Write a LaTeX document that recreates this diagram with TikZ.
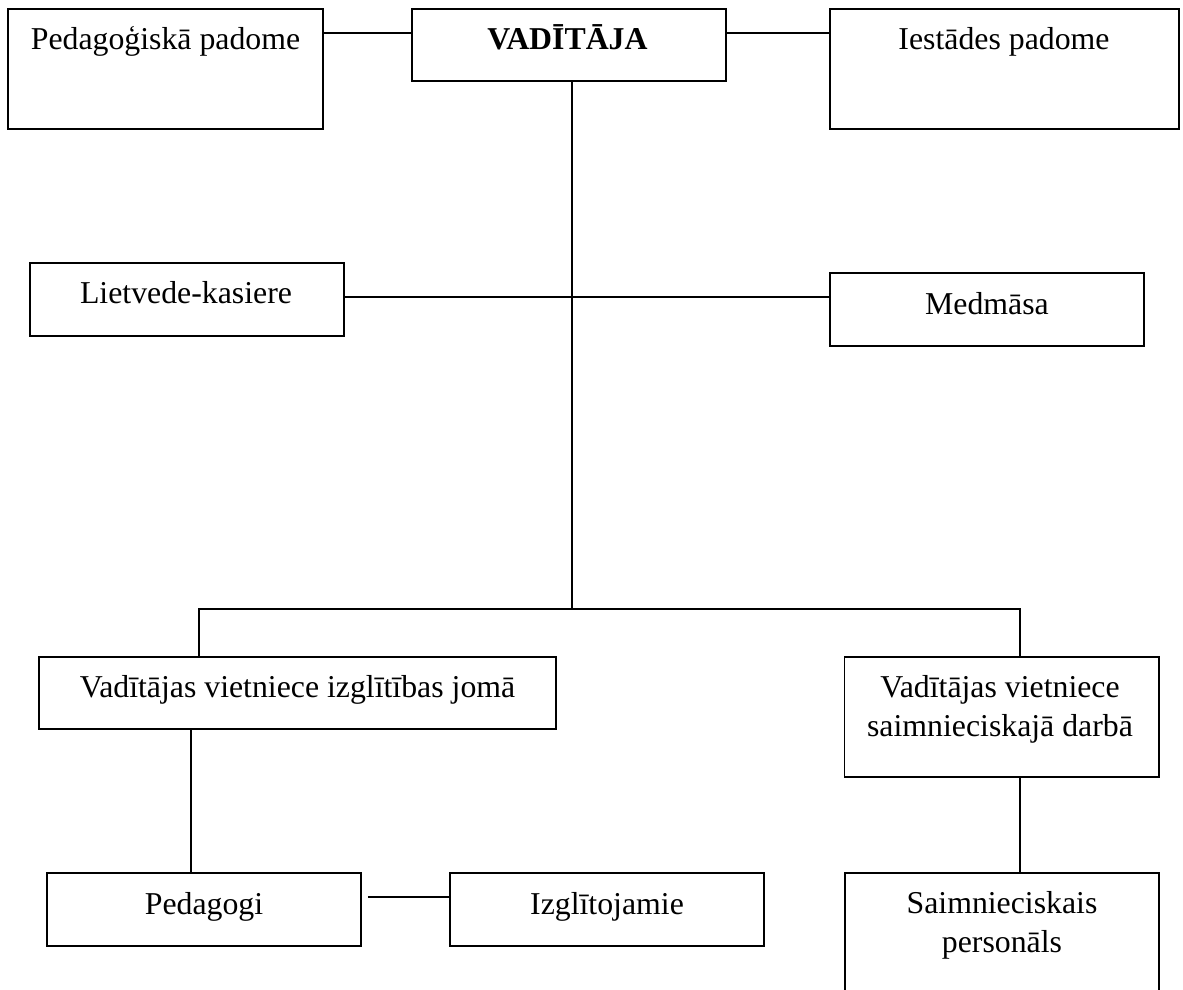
\documentclass[tikz,border=0pt]{standalone}
\usepackage{fontspec}
\setmainfont{Liberation Serif}
\usetikzlibrary{calc}
\newcommand\orgfont{\fontsize{31.8}{39}\selectfont}
\begin{document}
\begin{tikzpicture}[x=1pt,y=-1pt,
  box/.style={draw=black, line width=1.7pt, rectangle, inner sep=0pt, fill=white},
  txt/.style={font=\orgfont, inner sep=0pt, anchor=base, text=black},
  conn/.style={draw=black, line width=1.7pt}]
\useasboundingbox[fill=white] (0,0) rectangle (1183,990);
% boxes
\node[box, minimum width=314.4pt, minimum height=119.7pt] (ped) at (165.5,69.15) {};
\node[box, minimum width=313.7pt, minimum height=71.4pt] (vad) at (568.85,45) {};
\node[box, minimum width=349pt, minimum height=119.7pt] (ies) at (1004.5,69.15) {};
\node[box, minimum width=313.7pt, minimum height=72.7pt] (liet) at (186.85,299.65) {};
\node[box, minimum width=314pt, minimum height=72.4pt] (med) at (987,309.5) {};
\node[box, minimum width=517pt, minimum height=72.3pt] (vi1) at (297.5,692.85) {};
\node[box, minimum width=314.4pt, minimum height=120pt] (vi2) at (1001.8,716.7) {};
\node[box, minimum width=314pt, minimum height=73pt] (pg) at (204,909.5) {};
\node[box, minimum width=314pt, minimum height=73pt] (izg) at (607,909.5) {};
\node[box, minimum width=314pt, minimum height=132pt] (sai) at (1002,939) {};
% texts
\node[txt] (pedt) at (165.5,50) {Pedagoģiskā padome};
\node[txt] (vadt) at (567.5,50) {\bfseries VADĪTĀJA};
\node[txt] (iest) at (1004,50) {Iestādes padome};
\node[txt] (lietT) at (186,303) {Lietvede-kasiere};
\node[txt] (medt) at (987,314) {Medmāsa};
\node[txt] (vi1t) at (297.5,697) {Vadītājas vietniece izglītības jomā};
\node[txt] (vi2a) at (1000,697) {Vadītājas vietniece};
\node[txt] (vi2b) at (1000,736.5) {saimnieciskajā darbā};
\node[txt] (pgt) at (204,914) {Pedagogi};
\node[txt] (izgt) at (607,914) {Izglītojamie};
\node[txt] (saia) at (1002,913) {Saimnieciskais};
\node[txt] (saib) at (1002,952) {personāls};
% helper coordinates
\coordinate (topl) at (0,32.7);
\coordinate (spine) at (572,0);
\coordinate (midl) at (0,297);
\coordinate (bar) at (0,609);
\coordinate (lx) at (199,0);
\coordinate (rx) at (1020,0);
\coordinate (dx) at (191,0);
\coordinate (pl) at (0,897);
\coordinate (barmid) at (spine |- bar);
% connectors
\draw[conn] (ped.east |- topl) -- (vad.west |- topl);
\draw[conn] (vad.east |- topl) -- (ies.west |- topl);
\draw[conn] (vad.south -| spine) -- (barmid);
\draw[conn] (liet.east |- midl) -- (med.west |- midl);
\draw[conn] (vi1.north -| lx) -- (lx |- bar) -- (rx |- bar) -- (vi2.north -| rx);
\draw[conn] (vi1.south -| dx) -- (pg.north -| dx);
\draw[conn] (vi2.south -| rx) -- (sai.north -| rx);
\draw[conn] ($(pg.east |- pl)+(6,0)$) -- (izg.west |- pl);
\end{tikzpicture}
\end{document}
